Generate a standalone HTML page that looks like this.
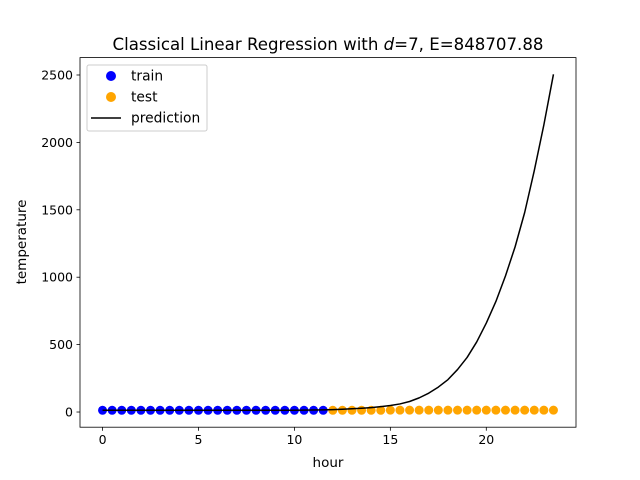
<!DOCTYPE html>
<html><head><meta charset="utf-8">
<style>
body{margin:0;background:#fff;}
svg{display:block;font-family:"DejaVu Sans","Liberation Sans",sans-serif;}
</style></head>
<body>
<svg id="chart" width="640" height="480">
<rect width="640" height="480" fill="#fff"/>
<text x="328" y="50" text-anchor="middle" font-size="16.4" textLength="431" lengthAdjust="spacingAndGlyphs">Classical Linear Regression with <tspan font-style="italic">d</tspan>=7, E=848707.88</text>
<g id="marks"></g>
<rect x="80" y="57.6" width="496" height="369.6" fill="none" stroke="#000" stroke-width="0.8"/>
<g id="axes" font-size="12.5"></g>
<text x="328" y="467" text-anchor="middle" font-size="13.5">hour</text>
<text transform="translate(26,242) rotate(-90)" text-anchor="middle" font-size="13.5">temperature</text>
<g>
<rect x="87" y="65" width="120" height="66" fill="#fff" fill-opacity="0.8" stroke="#ccc" rx="2"/>
<g><circle cx="111" cy="76" r="5" fill="blue"/><text x="131" y="80.5" font-size="13.8">train</text></g>
<g><circle cx="111" cy="97" r="5" fill="orange"/><text x="131" y="101.5" font-size="13.8">test</text></g>
<g><line x1="91" x2="121" y1="118" y2="118" stroke="#000" stroke-width="1.5"/><text x="131" y="122.5" font-size="13.8">prediction</text></g>
</g>
</svg>
<script>
const hours = [0,0.5,1,1.5,2,2.5,3,3.5,4,4.5,5,5.5,6,6.5,7,7.5,8,8.5,9,9.5,10,10.5,11,11.5,12,12.5,13,13.5,14,14.5,15,15.5,16,16.5,17,17.5,18,18.5,19,19.5,20,20.5,21,21.5,22,22.5,23,23.5];
const temperatures = [13,13,13,13,13,13,13,13,13,13,13,13,13,13,13,13,13,13,13,13,13,13,13,13,13,13,13,13,13,13,14,14,14,14,14,14,14,14,14,14,14,14,14,14,14,14,14,14];
const predictions = [13,13,13,13,13,13,13,13,13,13,13,13,13,13,13,13,13,13,13,13,13,14,15,16,18,21,24,28,33,40,48,60,78,105,140,185,240,315,405,520,660,820,1010,1225,1480,1790,2130,2505];
const trainCount = 24;
const xTicks = [0,5,10,15,20];
const yTicks = [0,500,1000,1500,2000,2500];
const xMin=-1.175,xMax=24.675,yMin=-112.6,yMax=2629;
const L=80,R=576,T=57.6,B=427.2;
function sx(v){return L+(v-xMin)/(xMax-xMin)*(R-L);}
function sy(v){return B-(v-yMin)/(yMax-yMin)*(B-T);}
const NS="http://www.w3.org/2000/svg";
const marks=document.getElementById('marks'), axes=document.getElementById('axes');
hours.forEach((h,i)=>{
  const c=document.createElementNS(NS,'circle');
  c.setAttribute('cx',sx(h));c.setAttribute('cy',sy(temperatures[i]));c.setAttribute('r',4.5);
  c.setAttribute('fill',i<trainCount?'blue':'orange');
  
  
  marks.appendChild(c);
});
const p=document.createElementNS(NS,'polyline');
p.setAttribute('points',hours.map((h,i)=>sx(h)+','+sy(predictions[i])).join(' '));
p.setAttribute('fill','none');p.setAttribute('stroke','#000');p.setAttribute('stroke-width','1.5');p.setAttribute('stroke-linejoin','round');


marks.appendChild(p);
xTicks.forEach(t=>{
  const x=sx(t);
  const l=document.createElementNS(NS,'line');
  l.setAttribute('x1',x);l.setAttribute('x2',x);l.setAttribute('y1',B);l.setAttribute('y2',B+3.5);l.setAttribute('stroke','#000');l.setAttribute('stroke-width','0.8');
  
  
  axes.appendChild(l);
  const tx=document.createElementNS(NS,'text');
  tx.setAttribute('x',x);tx.setAttribute('y',B+17);tx.setAttribute('text-anchor','middle');tx.textContent=t;
  
  
  axes.appendChild(tx);
});
yTicks.forEach(t=>{
  const y=sy(t);
  const l=document.createElementNS(NS,'line');
  l.setAttribute('x1',L-3.5);l.setAttribute('x2',L);l.setAttribute('y1',y);l.setAttribute('y2',y);l.setAttribute('stroke','#000');l.setAttribute('stroke-width','0.8');
  
  
  axes.appendChild(l);
  const tx=document.createElementNS(NS,'text');
  tx.setAttribute('x',L-7);tx.setAttribute('y',y+4.5);tx.setAttribute('text-anchor','end');tx.textContent=t;
  
  
  axes.appendChild(tx);
});
</script>
</body></html>
